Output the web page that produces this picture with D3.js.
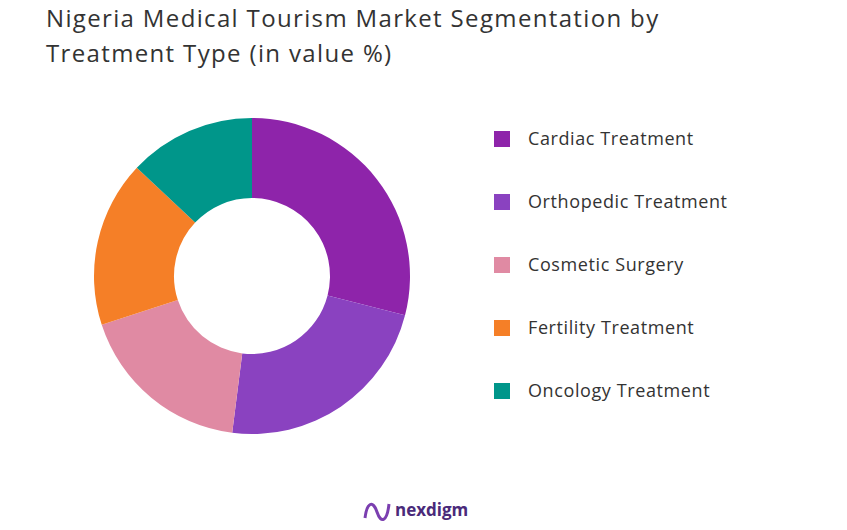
<!DOCTYPE html>
<html><head><meta charset="utf-8">
<script src="https://cdn.jsdelivr.net/npm/d3@7"></script>
<style>body{margin:0;background:#fff;font-family:"Open Sans",sans-serif;}</style>
</head><body><svg id="chart" width="847" height="530"></svg>
<script>
const categories = ["Cardiac Treatment","Orthopedic Treatment","Cosmetic Surgery","Fertility Treatment","Oncology Treatment"];
const values = [29, 23, 18, 17, 13];
const colors = ["#8e24aa","#8a42c0","#e08aa3","#f57f27","#00968a"];

const svg = d3.select("#chart");
svg.append("text").attr("x", 46).attr("y", 27).attr("font-size", 24).attr("letter-spacing", 1.35).attr("fill", "#333")
  .text("Nigeria Medical Tourism Market Segmentation by");
svg.append("text").attr("x", 46).attr("y", 62).attr("font-size", 24).attr("letter-spacing", 1.35).attr("fill", "#333")
  .text("Treatment Type (in value %)");

const pie = d3.pie().sort(null).value(d => d);
const arc = d3.arc().innerRadius(78).outerRadius(158);
svg.append("g").attr("transform", "translate(252,276)")
  .selectAll("path").data(pie(values)).join("path")
  .attr("d", arc).attr("fill", (d, i) => colors[i]);

const leg = svg.append("g").attr("transform", "translate(494,139)");
categories.forEach((c, i) => {
  const g = leg.append("g").attr("transform", `translate(0,${i * 63})`);
  g.append("rect").attr("x", 0).attr("y", -8).attr("width", 16).attr("height", 16).attr("fill", colors[i]);
  g.append("text").attr("x", 34).attr("y", 6).attr("font-size", 18).attr("letter-spacing", 0.6).attr("fill", "#333").text(c);
});

const logo = svg.append("g").attr("transform", "translate(363,498)");
logo.append("path").attr("d", "M2,20 C4,4 10,2 14,14 C18,26 24,24 26,6").attr("fill", "none")
  .attr("stroke", "#7b3fb0").attr("stroke-width", 3);
logo.append("text").attr("x", 32).attr("y", 18).attr("font-size", 17).attr("font-weight", "bold")
  .attr("fill", "#4a2a7a").text("nexdigm");
</script></body></html>
